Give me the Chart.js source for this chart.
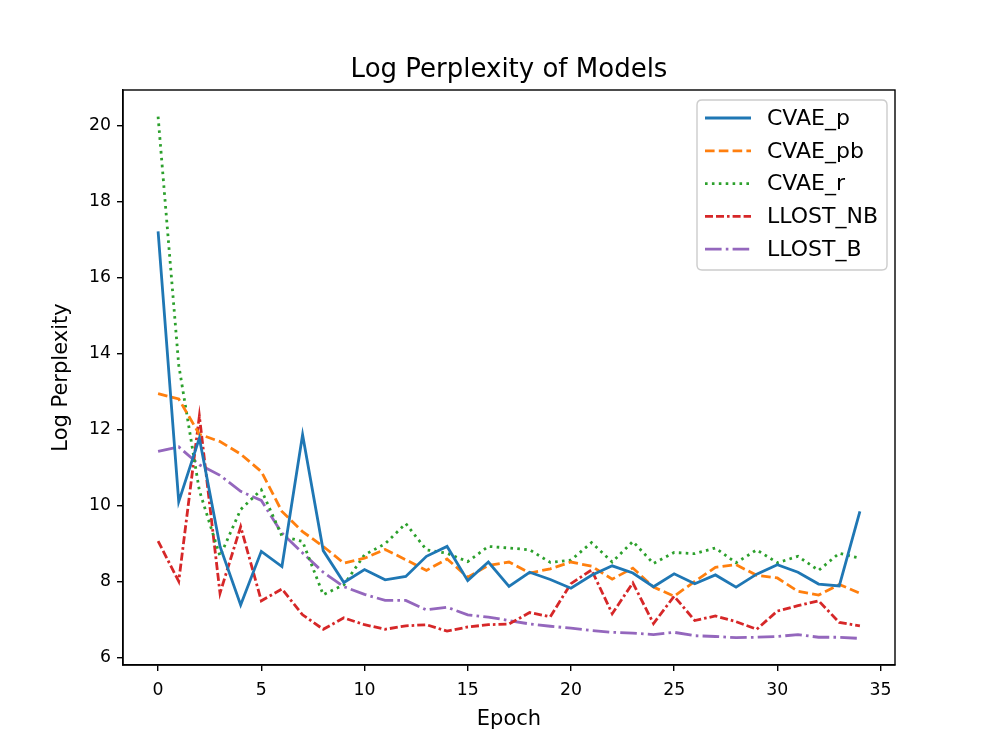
<!DOCTYPE html>
<html>
<head>
<meta charset="utf-8">
<script src="https://cdn.jsdelivr.net/npm/chart.js@4/dist/chart.umd.min.js"></script>
<style>
  html, body { margin: 0; padding: 0; background: #ffffff; }
  #wrap { width: 996px; height: 747px; }
</style>
</head>
<body>
<div id="wrap"><canvas id="c" width="996" height="747"></canvas></div>
<script>
// ---- data ----
const epochs = [0,1,2,3,4,5,6,7,8,9,10,11,12,13,14,15,16,17,18,19,20,21,22,23,24,25,26,27,28,29,30,31,32,33,34];
const cvaeP   = [17.22,10.11,11.78,8.93,7.39,8.80,8.40,11.87,8.82,7.98,8.32,8.05,8.14,8.67,8.93,8.03,8.52,7.88,8.25,8.06,7.83,8.17,8.42,8.23,7.87,8.21,7.95,8.18,7.86,8.20,8.45,8.25,7.94,7.89,9.85];
const cvaePb  = [12.95,12.81,11.88,11.69,11.36,10.90,9.85,9.32,8.93,8.49,8.62,8.85,8.58,8.30,8.60,8.12,8.43,8.52,8.23,8.34,8.52,8.41,8.07,8.36,7.86,7.62,8.01,8.38,8.45,8.17,8.10,7.75,7.65,7.93,7.70];
const cvaeR   = [20.24,13.7,10.4,8.67,9.90,10.42,9.20,9.06,7.66,7.92,8.71,9.00,9.53,8.84,8.75,8.53,8.93,8.89,8.84,8.51,8.57,9.03,8.52,9.06,8.48,8.77,8.74,8.89,8.50,8.84,8.50,8.67,8.30,8.75,8.62];
const llostNB = [9.07,8.01,12.36,7.70,9.45,7.50,7.81,7.13,6.75,7.05,6.87,6.75,6.84,6.87,6.70,6.81,6.87,6.89,7.19,7.08,7.95,8.31,7.16,7.97,6.90,7.62,6.98,7.10,6.95,6.75,7.23,7.37,7.50,6.93,6.84];
const llostB  = [11.43,11.55,11.08,10.80,10.38,10.14,9.28,8.76,8.25,7.87,7.67,7.51,7.51,7.26,7.33,7.13,7.07,6.98,6.89,6.83,6.78,6.72,6.67,6.65,6.61,6.67,6.58,6.56,6.53,6.54,6.56,6.61,6.54,6.54,6.51];
const seriesLabels = ['CVAE_p','CVAE_pb','CVAE_r','LLOST_NB','LLOST_B'];
const chartTitle = 'Log Perplexity of Models';
const xTickValues = [0,5,10,15,20,25,30,35];
const yTickValues = [6,8,10,12,14,16,18,20];

const FONT = "'DejaVu Sans', sans-serif";
const LW = 2.8;
const pts = (arr) => arr.map((v, i) => ({ x: epochs[i], y: v }));

const styles = [
  { color: '#1f77b4', dash: [] },
  { color: '#ff7f0e', dash: [9.6, 4.2] },
  { color: '#2ca02c', dash: [2.6, 4.3] },
  { color: '#d62728', dash: [8, 3, 8, 3, 2.6, 3] },
  { color: '#9467bd', dash: [16.6, 4.2, 2.6, 4.2] }
];
const allSeries = [cvaeP, cvaePb, cvaeR, llostNB, llostB];

const datasets = allSeries.map((s, k) => ({
  label: seriesLabels[k],
  data: pts(s),
  borderColor: styles[k].color,
  backgroundColor: styles[k].color,
  borderWidth: LW,
  borderDash: styles[k].dash,
  pointRadius: 0,
  pointHoverRadius: 0,
  tension: 0,
  fill: false
}));

const framePlugin = {
  id: 'frameAndLegend',
  afterDraw(chart) {
    const { ctx, chartArea: { left, top, right, bottom } } = chart;
    ctx.save();
    // spines
    ctx.setLineDash([]);
    ctx.strokeStyle = '#000';
    ctx.lineWidth = 1.4;
    ctx.strokeRect(left, top, right - left, bottom - top);

    // title
    ctx.fillStyle = '#000';
    ctx.font = '26px ' + FONT;
    ctx.textAlign = 'center';
    ctx.textBaseline = 'alphabetic';
    ctx.fillText(chartTitle, (left + right) / 2, 77);

    // legend
    const bw = 190, bh = 170, r = 5;
    const bx = right - 8 - bw, by = top + 10;
    ctx.beginPath();
    ctx.moveTo(bx + r, by);
    ctx.lineTo(bx + bw - r, by);
    ctx.quadraticCurveTo(bx + bw, by, bx + bw, by + r);
    ctx.lineTo(bx + bw, by + bh - r);
    ctx.quadraticCurveTo(bx + bw, by + bh, bx + bw - r, by + bh);
    ctx.lineTo(bx + r, by + bh);
    ctx.quadraticCurveTo(bx, by + bh, bx, by + bh - r);
    ctx.lineTo(bx, by + r);
    ctx.quadraticCurveTo(bx, by, bx + r, by);
    ctx.closePath();
    ctx.fillStyle = 'rgba(255,255,255,0.8)';
    ctx.fill();
    ctx.strokeStyle = '#cccccc';
    ctx.lineWidth = 1.4;
    ctx.stroke();

    ctx.font = '22px ' + FONT;
    ctx.textBaseline = 'middle';
    ctx.textAlign = 'left';
    chart.data.datasets.forEach((ds, k) => {
      const y = by + 18 + k * 32.8;
      ctx.beginPath();
      ctx.setLineDash(ds.borderDash || []);
      ctx.strokeStyle = ds.borderColor;
      ctx.lineWidth = ds.borderWidth;
      ctx.moveTo(bx + 8, y);
      ctx.lineTo(bx + 54, y);
      ctx.stroke();
      ctx.setLineDash([]);
      ctx.fillStyle = '#000';
      ctx.fillText(ds.label, bx + 70, y + 1);
    });
    ctx.restore();
  }
};

new Chart(document.getElementById('c'), {
  type: 'line',
  data: { datasets },
  plugins: [framePlugin],
  options: {
    responsive: false,
    animation: false,
    devicePixelRatio: 1,
    layout: { padding: { left: 0, right: 101, top: 90, bottom: 0 } },
    plugins: {
      legend: { display: false },
      tooltip: { enabled: false },
      title: { display: false }
    },
    scales: {
      x: {
        type: 'linear',
        min: -1.7,
        max: 35.7,
        afterBuildTicks: (scale) => { scale.ticks = xTickValues.map(v => ({ value: v })); },
        afterFit: (scale) => { scale.height = 82; },
        grid: { display: true, drawOnChartArea: false, drawTicks: true, tickLength: 6, color: '#000', lineWidth: 1.4 },
        border: { display: true, color: '#000', width: 1.4 },
        ticks: { color: '#000', font: { family: FONT, size: 17.3 }, padding: 9, maxRotation: 0, autoSkip: false },
        title: { display: true, text: 'Epoch', color: '#000', font: { family: FONT, size: 21 }, padding: { top: 0, bottom: 15 } }
      },
      y: {
        type: 'linear',
        min: 5.81,
        max: 20.94,
        afterBuildTicks: (scale) => { scale.ticks = yTickValues.map(v => ({ value: v })); },
        afterFit: (scale) => { scale.width = 123; },
        grid: { display: true, drawOnChartArea: false, drawTicks: true, tickLength: 6, color: '#000', lineWidth: 1.4 },
        border: { display: true, color: '#000', width: 1.4 },
        ticks: { color: '#000', font: { family: FONT, size: 17.3 }, padding: 6, autoSkip: false },
        title: { display: true, text: 'Log Perplexity', color: '#000', font: { family: FONT, size: 21 }, padding: { top: 49.4, bottom: 0 } }
      }
    }
  }
});
</script>
</body>
</html>
